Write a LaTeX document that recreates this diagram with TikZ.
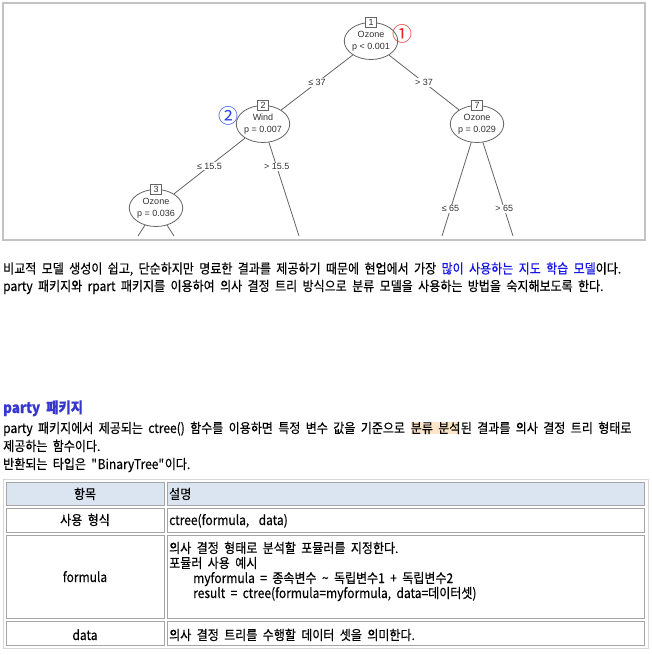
\documentclass[tikz,border=0pt]{standalone}
\usepackage{fontspec}
\setmainfont{Noto Sans CJK KR}[FakeStretch=0.89,WordSpace=2.0,FakeBold=0.3]
\newfontfamily\plotfont{Liberation Sans}
\newfontfamily\circfont{Noto Sans CJK KR}
\usetikzlibrary{shapes.geometric}
\definecolor{framegray}{RGB}{195,195,195}
\definecolor{treegray}{RGB}{100,100,100}
\definecolor{treetext}{RGB}{50,50,50}
\definecolor{circred}{RGB}{235,35,35}
\definecolor{circblue}{RGB}{40,70,225}
\definecolor{bluetext}{RGB}{20,20,230}
\definecolor{headblue}{RGB}{55,55,205}
\definecolor{hlpeach}{RGB}{253,229,201}
\definecolor{headfill}{RGB}{219,229,241}
\definecolor{cellgray}{RGB}{165,165,165}
\definecolor{tablegray}{RGB}{215,215,215}

\begin{document}
\begin{tikzpicture}[x=1pt,y=-1pt,
  treenode/.style={ellipse,draw=treegray,line width=.8pt,minimum width=52pt,minimum height=37pt,inner sep=0pt,align=center,text=treetext,font=\plotfont\fontsize{9}{12}\selectfont},
  numbox/.style={draw=treegray,fill=white,line width=.8pt,minimum width=11pt,minimum height=10pt,inner sep=0pt,text=treetext,font=\plotfont\fontsize{9}{9}\selectfont},
  treeline/.style={draw=treegray,line width=.8pt},
  edgelbl/.style={fill=white,inner sep=1pt,text=treetext,font=\plotfont\fontsize{9}{9}\selectfont},
  circnum/.style={inner sep=0pt,font=\circfont\fontsize{20}{20}\selectfont},
  txt/.style={anchor=base west,inner sep=0pt,font=\fontsize{13.5}{16}\selectfont},
  ctxt/.style={txt,anchor=base},
  cell/.style={draw=cellgray,line width=.8pt}]
\fill[white] (0,0) rectangle (652,655);
\useasboundingbox (0,0) rectangle (652,655);

\draw[framegray,line width=1.2pt] (3,3) rectangle (645,240);

\node[treenode] (n1) at (371,41) {Ozone\\p < 0.001};
\node[treenode] (n2) at (263,124) {Wind\\p = 0.007};
\node[treenode] (n7) at (477,124) {Ozone\\p = 0.029};
\node[treenode] (n3) at (156,208) {Ozone\\p = 0.036};
\coordinate (c2r) at (299,236);
\coordinate (c7l) at (442,236);
\coordinate (c7r) at (513,236);
\coordinate (c3l) at (138,236);
\coordinate (c3r) at (174,236);

\draw[treeline] (n1) -- node[edgelbl]{≤ 37} (n2);
\draw[treeline] (n1) -- node[edgelbl]{> 37} (n7);
\draw[treeline] (n2) -- node[edgelbl]{≤ 15.5} (n3);
\draw[treeline] (n2) -- node[edgelbl,pos=.26]{> 15.5} (c2r);
\draw[treeline] (n7) -- node[edgelbl,pos=.71]{≤ 65} (c7l);
\draw[treeline] (n7) -- node[edgelbl,pos=.71]{> 65} (c7r);
\draw[treeline] (n3) -- (c3l);
\draw[treeline] (n3) -- (c3r);

\node[numbox] (b1) at (n1.north) {1};
\node[numbox] (b2) at (n2.north) {2};
\node[numbox] (b7) at (n7.north) {7};
\node[numbox] (b3) at (n3.north) {3};
\node[circnum,text=circred] (m1) at (402,34) {①};
\node[circnum,text=circblue] (m2) at (228,116) {②};

\node[txt] (l1) at (3,273.5) {비교적 모델 생성이 쉽고, 단순하지만 명료한 결과를 제공하기 때문에 현업에서 가장 {\color{bluetext}많이 사용하는 지도 학습 모델}이다.};
\node[txt] (l2) at (3,291) {party 패키지와 rpart 패키지를 이용하여 의사 결정 트리 방식으로 분류 모델을 사용하는 방법을 숙지해보도록 한다.};

\node[txt,font=\bfseries\fontsize{15}{18}\selectfont,text=headblue] (h1) at (3,413) {party 패키지};
\node[txt] (p1a) at (3,433) {party 패키지에서 제공되는 ctree() 함수를 이용하면 특정 변수 값을 기준으로\ \null};
\node[txt,fill=hlpeach,text height=11pt,text depth=.5pt] (p1b) at (p1a.base east) {분류 분석};
\node[txt] (p1c) at (p1b.base east) {된 결과를 의사 결정 트리 형태로};
\node[txt] (p2) at (3,451) {제공하는 함수이다.};
\node[txt] (p3) at (3,469) {반환되는 타입은 \textquotedbl BinaryTree\textquotedbl 이다.};

\draw[tablegray] (3,479) rectangle (648,648);
\draw[cell,fill=headfill] (6,482) rectangle (164,505);
\draw[cell,fill=headfill] (167,482) rectangle (644,505);
\foreach \ya/\yb in {508/532,535/618,621/645}{
  \draw[cell] (6,\ya) rectangle (164,\yb);
  \draw[cell] (167,\ya) rectangle (644,\yb);
}

\node[ctxt] (th1) at (85,499) {항목};
\node[txt] (th2) at (169,499) {설명};
\node[ctxt] (k1) at (85,525) {사용 형식};
\node[txt] (v1) at (169,525) {ctree(formula,\hspace{4pt} data)};
\node[ctxt] (k2) at (85,582) {formula};
\node[txt] (v2a) at (169,553) {의사 결정 형태로 분석할 포뮬러를 지정한다.};
\node[txt] (v2b) at (169,568) {포뮬러 사용 예시};
\node[txt] (v2c) at (193,583) {myformula = 종속변수 \textasciitilde{} 독립변수1 + 독립변수2};
\node[txt] (v2d) at (193,598) {result = ctree(formula=myformula, data=데이터셋)};
\node[ctxt] (k3) at (85,640) {data};
\node[txt] (v3) at (169,640) {의사 결정 트리를 수행할 데이터 셋을 의미한다.};
\end{tikzpicture}
\end{document}
